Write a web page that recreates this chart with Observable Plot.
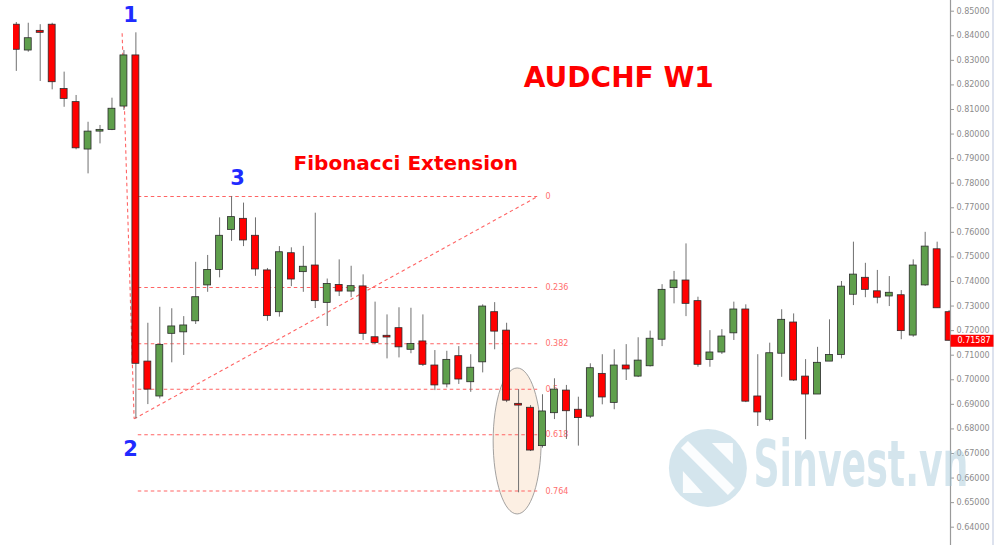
<!DOCTYPE html>
<html><head><meta charset="utf-8">
<script src="https://cdn.jsdelivr.net/npm/d3@7"></script>
<script src="https://cdn.jsdelivr.net/npm/@observablehq/plot@0.6"></script>
<style>
html,body{margin:0;padding:0;background:#fff;}
#chart{position:relative;width:1000px;height:545px;
 background:linear-gradient(to right, transparent 992px, #dde2ee 992px, #dde2ee 994px, transparent 994px);}
#chart svg{display:block;}
</style></head><body><div id="chart"></div>
<script>
// Weekly AUDCHF candles (index 0 = leftmost visible bar)
const opens  = [0.8445,0.8340,0.8420,0.8445,0.8183,0.8130,0.7937,0.8010,0.8017,0.8112,
                0.8320,0.7074,0.6932,0.7187,0.7193,0.7238,0.7384,0.7447,0.7610,0.7655,
                0.7586,0.7445,0.7275,0.7515,0.7438,0.7465,0.7313,0.7386,0.7359,0.7380,
                0.7173,0.7179,0.7210,0.7122,0.7156,0.7058,0.6981,0.7096,0.6990,0.7071,
                0.7275,0.7200,0.6902,0.6886,0.6730,0.6864,0.6956,0.6878,0.6850,0.7024,
                0.6906,0.7058,0.7013,0.7055,0.7163,0.7373,0.7404,0.7320,0.7081,0.7111,
                0.7189,0.7286,0.6932,0.6837,0.7106,0.7233,0.7013,0.6940,0.7074,0.7101,
                0.7346,0.7415,0.7360,0.7339,0.7344,0.7180,0.7384,0.7531,0.7275];
const highs  = [0.8454,0.8451,0.8445,0.8451,0.8252,0.8157,0.8048,0.8035,0.8146,0.8340,
                0.8412,0.7230,0.7295,0.7289,0.7257,0.7478,0.7506,0.7659,0.7746,0.7719,
                0.7659,0.7453,0.7542,0.7537,0.7543,0.7678,0.7410,0.7488,0.7462,0.7427,
                0.7316,0.7264,0.7293,0.7291,0.7264,0.7119,0.7116,0.7135,0.7102,0.7305,
                0.7314,0.7230,0.6960,0.6895,0.6939,0.7004,0.6977,0.6929,0.7065,0.7102,
                0.7122,0.7143,0.7171,0.7198,0.7387,0.7441,0.7553,0.7336,0.7200,0.7204,
                0.7316,0.7305,0.7102,0.7149,0.7285,0.7268,0.7082,0.7132,0.7244,0.7400,
                0.7560,0.7474,0.7445,0.7420,0.7363,0.7488,0.7600,0.7560,0.7282];
const lows   = [0.8255,0.8333,0.8214,0.8180,0.8109,0.7936,0.7838,0.7960,0.8014,0.8096,
                0.6841,0.6899,0.6922,0.7069,0.7099,0.7225,0.7356,0.7415,0.7563,0.7542,
                0.7421,0.7238,0.7255,0.7379,0.7356,0.7290,0.7217,0.7339,0.7334,0.7160,
                0.7143,0.7085,0.7089,0.7106,0.7054,0.6956,0.6967,0.6981,0.6949,0.7028,
                0.7122,0.6907,0.6540,0.6708,0.6722,0.6838,0.6757,0.6730,0.6842,0.6898,
                0.6878,0.6997,0.7009,0.7052,0.7135,0.7309,0.7257,0.7051,0.7051,0.7103,
                0.7160,0.6907,0.6810,0.6829,0.7010,0.6993,0.6756,0.6940,0.7074,0.7085,
                0.7302,0.7334,0.7309,0.7298,0.7163,0.7173,0.7380,0.7291,0.7158];
const closes = [0.8343,0.8390,0.8412,0.8211,0.8143,0.7942,0.8010,0.8017,0.8103,0.8320,
                0.7065,0.6960,0.7142,0.7217,0.7221,0.7336,0.7447,0.7586,0.7662,0.7567,
                0.7449,0.7259,0.7519,0.7408,0.7460,0.7320,0.7390,0.7359,0.7381,0.7187,
                0.7150,0.7172,0.7132,0.7146,0.7061,0.6977,0.7081,0.7001,0.7049,0.7298,
                0.7196,0.6915,0.6895,0.6712,0.6871,0.6960,0.6872,0.6844,0.7047,0.6928,
                0.7058,0.7042,0.7078,0.7167,0.7366,0.7404,0.7309,0.7061,0.7111,0.7176,
                0.7286,0.6911,0.6867,0.7108,0.7244,0.6997,0.6940,0.7069,0.7101,0.7379,
                0.7428,0.7366,0.7334,0.7354,0.7198,0.7465,0.7542,0.7291,0.71587];

const yTicks = [0.64,0.65,0.66,0.67,0.68,0.69,0.70,0.71,0.72,0.73,0.74,0.75,
                0.76,0.77,0.78,0.79,0.80,0.81,0.82,0.83,0.84,0.85];

// Fibonacci expansion anchors (points 1, 2, 3) and ratios
const fibPointIdx   = [8.85, 9.85, 43.6];
const fibPointPrice = [0.8410, 0.6841, 0.7746];
const fibRatios     = [0, 0.236, 0.382, 0.5, 0.618, 0.764];
const fibLabels     = ["0", "0.236", "0.382", "0.5", "0.618", "0.764"];
const fibLineStart  = 10.2;

const pointLabels     = ["1", "2", "3"];
const pointLabelIdx   = [9.56, 9.56, 18.5];
const pointLabelPrice = [0.8455, 0.6688, 0.7791];

const titleText = "AUDCHF W1";
const subText = "Fibonacci Extension";
const watermark = "Sinvest.vn";

// ---- build tables
const candles = opens.map((o, i) => ({i, o, h: highs[i], l: lows[i], c: closes[i], up: closes[i] >= o}));
const range12 = fibPointPrice[0] - fibPointPrice[1];
const levels = fibRatios.map((r, k) => ({p: fibPointPrice[2] - r * range12, label: fibLabels[k]}));
const legs = [
  {x1: fibPointIdx[0], y1: fibPointPrice[0], x2: fibPointIdx[1], y2: fibPointPrice[1]},
  {x1: fibPointIdx[1], y1: fibPointPrice[1], x2: fibPointIdx[2], y2: fibPointPrice[2]}
];
const pts = pointLabels.map((t, k) => ({t, x: pointLabelIdx[k], y: pointLabelPrice[k]}));
const lastClose = closes[closes.length - 1];

const RED = "#ff0000", GREEN = "#5f9f4c", FIB = "#ff6464";

const ellipseSym = {draw(ctx) {
  const rx = 24, ry = 73, k = 0.5523;
  ctx.moveTo(rx, 0);
  ctx.bezierCurveTo(rx, ry * k, rx * k, ry, 0, ry);
  ctx.bezierCurveTo(-rx * k, ry, -rx, ry * k, -rx, 0);
  ctx.bezierCurveTo(-rx, -ry * k, -rx * k, -ry, 0, -ry);
  ctx.bezierCurveTo(rx * k, -ry, rx, -ry * k, rx, 0);
  ctx.closePath();
}};
const priceBox = {draw(ctx) { ctx.rect(0, -6, 43, 12); }};
const logoCut = {draw(ctx) {
  ctx.moveTo(-20, -27); ctx.lineTo(27, 20); ctx.lineTo(20, 27); ctx.lineTo(-27, -20); ctx.closePath();
  ctx.moveTo(-25, 3); ctx.lineTo(-5, 25); ctx.lineTo(-25, 25); ctx.closePath();
  ctx.moveTo(4, -25); ctx.lineTo(25, -25); ctx.lineTo(25, -4); ctx.closePath();
}};

const plot = Plot.plot({
  width: 1000, height: 545,
  marginTop: 10.7, marginBottom: 18.3, marginLeft: 13, marginRight: 50,
  x: {domain: [0, 78], range: [15.8, 948.6], axis: null},
  y: {domain: [0.64, 0.85], label: null},
  color: {type: "identity"},
  style: {fontFamily: "DejaVu Sans", background: "transparent", overflow: "visible"},
  marks: [
    // highlight ellipse
    Plot.dot([{x: 41.88, y: 0.6751}], {x: "x", y: "y", symbol: ellipseSym, fill: "#fcefe3", stroke: "#8c8c8c", strokeWidth: 0.8}),
    // fibonacci legs and levels
    Plot.link(legs, {x1: "x1", y1: "y1", x2: "x2", y2: "y2", stroke: FIB, strokeWidth: 1.1, strokeDasharray: "3.5,3"}),
    Plot.ruleY(levels, {y: "p", x1: fibLineStart, x2: fibPointIdx[2], stroke: FIB, strokeWidth: 1.1, strokeDasharray: "3.5,3"}),
    Plot.text(levels, {y: "p", x: fibPointIdx[2] + 0.65, text: "label", textAnchor: "start", fill: "#ff6e6e", fontSize: 8}),
    // candles
    Plot.ruleX(candles, {x: "i", y1: "l", y2: "h", stroke: "#707070", strokeWidth: 1, clip: true}),
    Plot.rect(candles, {
      x1: d => d.i - 0.29, x2: d => d.i + 0.29,
      y1: d => Math.min(d.o, d.c), y2: d => Math.max(d.o, d.c),
      fill: d => d.up ? GREEN : RED, stroke: "#2b2b2b", strokeWidth: 0.8, clip: true
    }),
    // price axis
    Plot.axisY({anchor: "right", ticks: yTicks, tickFormat: d => d.toFixed(5), tickSize: 3, tickPadding: 3,
      fontSize: 8, stroke: "#999", fill: "#8c8c8c", label: null}),
    Plot.frame({anchor: "right", stroke: "#9a9a9a", strokeWidth: 1.2, insetTop: -11, insetBottom: -19}),
    Plot.dot([lastClose], {y: d => d, frameAnchor: "right", symbol: priceBox, fill: RED, stroke: "none"}),
    Plot.text([lastClose], {y: d => d, frameAnchor: "right", dx: 7, text: d => d.toFixed(5), textAnchor: "start", fill: "white", fontSize: 8}),
    // labels
    Plot.text(pts, {x: "x", y: "y", text: "t", fill: "#1f2bff", fontSize: 21, fontWeight: "bold", lineAnchor: "bottom"}),
    Plot.text([titleText], {x: 50.38, y: 0.8191, text: d => d, fill: RED, fontSize: 28, fontWeight: "bold", lineAnchor: "bottom"}),
    Plot.text([subText], {x: 32.57, y: 0.7855, text: d => d, fill: RED, fontSize: 20, fontWeight: "bold", lineAnchor: "bottom"}),
    // watermark
    Plot.dot([{x: 57.83, y: 0.6641}], {x: "x", y: "y", r: 39, fill: "#9fc6d8", fillOpacity: 0.45, stroke: "none"}),
    Plot.dot([{x: 57.83, y: 0.6641}], {x: "x", y: "y", symbol: logoCut, fill: "white", fillOpacity: 0.9, stroke: "none"}),
    Plot.text([watermark], {x: 70.63, y: 0.6568, text: d => d, fill: "#9fc6d8", fillOpacity: 0.45, fontSize: 64,
      fontWeight: "bold", fontFamily: "DejaVu Sans Condensed", lineAnchor: "bottom"})
  ]
});
plot.querySelectorAll("text").forEach(t => {
  if (t.textContent === watermark) { t.setAttribute("textLength", 215); t.setAttribute("lengthAdjust", "spacingAndGlyphs"); }
});
document.getElementById("chart").appendChild(plot);
</script></body></html>
